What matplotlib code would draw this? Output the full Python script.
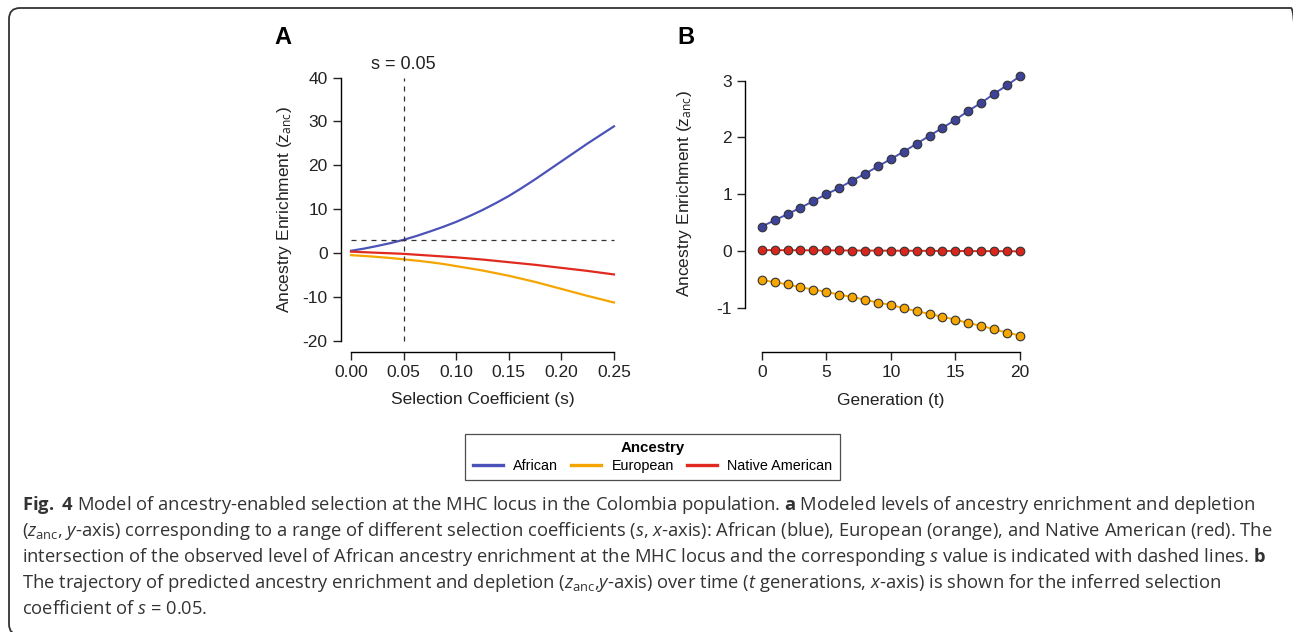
import matplotlib
matplotlib.use('Agg')
import matplotlib.pyplot as plt
from matplotlib.patches import FancyBboxPatch

plt.rcParams['font.family'] = ['Liberation Sans', 'DejaVu Sans']
plt.rcParams['axes.unicode_minus'] = False
plt.rcParams['mathtext.fontset'] = 'custom'
plt.rcParams['mathtext.rm'] = 'Open Sans'
plt.rcParams['mathtext.it'] = 'Open Sans:italic'
plt.rcParams['mathtext.bf'] = 'Open Sans:bold'

# panel A: enrichment vs selection coefficient
s_vals = [0.0, 0.0125, 0.025, 0.0375, 0.05, 0.0625, 0.075, 0.0875, 0.10, 0.1125, 0.125,
          0.1375, 0.15, 0.1625, 0.175, 0.1875, 0.20, 0.2125, 0.225, 0.2375, 0.25]
a_african = [0.5, 1.0, 1.6, 2.25, 3.0, 3.9, 4.9, 5.95, 7.1, 8.4, 9.8,
             11.35, 13.0, 14.85, 16.8, 18.85, 20.9, 22.95, 25.0, 26.95, 28.9]
a_european = [-0.5, -0.68, -0.9, -1.15, -1.45, -1.75, -2.1, -2.5, -3.0, -3.5, -4.0,
              -4.6, -5.2, -5.9, -6.6, -7.4, -8.2, -9.0, -9.8, -10.55, -11.3]
a_native = [0.3, 0.18, 0.05, -0.07, -0.2, -0.4, -0.6, -0.8, -1.0, -1.25, -1.5,
            -1.8, -2.1, -2.4, -2.7, -3.05, -3.4, -3.75, -4.1, -4.5, -4.9]
s_obs = 0.05
z_obs = 3.04

# panel B: trajectory over generations
gens = list(range(21))
b_african = [0.43, 0.54, 0.65, 0.76, 0.88, 1.00, 1.11, 1.24, 1.36, 1.49, 1.62,
             1.75, 1.89, 2.03, 2.17, 2.31, 2.47, 2.61, 2.77, 2.92, 3.08]
b_european = [-0.51, -0.55, -0.59, -0.64, -0.68, -0.72, -0.77, -0.81, -0.86, -0.91, -0.95,
              -1.01, -1.06, -1.11, -1.16, -1.21, -1.27, -1.32, -1.38, -1.44, -1.49]
b_native = [0.015, 0.014, 0.013, 0.012, 0.011, 0.010, 0.009, 0.008, 0.007, 0.006, 0.005,
            0.004, 0.003, 0.002, 0.001, 0.0, -0.002, -0.003, -0.004, -0.005, -0.007]

names = ['African', 'European', 'Native American']
line_cols = ['#4b53b8', '#f5a500', '#e12a1f']
dot_cols = ['#3c4399', '#f5a500', '#d8261c']

W, H = 1293, 632
fig = plt.figure(figsize=(W / 100, H / 100), dpi=100)


def px_axes(left, top, right, bottom):
    return fig.add_axes([left / W, 1 - bottom / H, (right - left) / W, (bottom - top) / H])


def r_style(ax, xb, yb, xout, yout):
    for sp in ['top', 'right']:
        ax.spines[sp].set_visible(False)
    ax.spines['left'].set_position(('outward', yout))
    ax.spines['bottom'].set_position(('outward', xout))
    ax.spines['left'].set_bounds(*yb)
    ax.spines['bottom'].set_bounds(*xb)
    for sp in ['left', 'bottom']:
        ax.spines[sp].set_linewidth(1.0)
    ax.tick_params(length=5.8, width=1.0, labelsize=12.5, pad=3.5, colors='#222222')
    ax.patch.set_alpha(0)


def place_labels(ax, xl, yl, xpos, ypos):
    ax.set_xlabel(xl, fontsize=12.5, color='#222222')
    ax.set_ylabel(ylab, fontsize=12.5, color='#222222')
    ax.xaxis.set_label_coords(*xpos)
    ax.yaxis.set_label_coords(*ypos)
    ax.xaxis.label.set_va('center')
    ax.yaxis.label.set_va('center')


ylab = r'Ancestry Enrichment (z$_{\mathrm{anc}}$)'

# ---- A
axA = px_axes(342.6, 68.9, 624.5, 347.2)
axA.set_xlim(-0.008, 0.26)
axA.set_ylim(-21.5, 42)
for ys, c in zip([a_african, a_european, a_native], line_cols):
    axA.plot(s_vals, ys, color=c, lw=1.6)
axA.plot([s_obs, s_obs], [-20, 40], color='#333333', lw=0.9, dashes=(4, 4))
axA.plot([0, 0.25], [z_obs, z_obs], color='#333333', lw=0.9, dashes=(4, 4))
axA.text(s_obs, 42.9, 's = 0.05', ha='center', va='center', fontsize=13, color='#222222')
axA.set_xticks([0, 0.05, 0.10, 0.15, 0.20, 0.25])
axA.set_xticklabels(['0.00', '0.05', '0.10', '0.15', '0.20', '0.25'])
axA.set_yticks([-20, -10, 0, 10, 20, 30, 40])
r_style(axA, (0, 0.25), (-20, 40), 3.2, 1.4)
place_labels(axA, 'Selection Coefficient (s)', ylab,
             ((482.5 - 342.6) / 281.9, (347.2 - 400) / 278.3),
             ((285 - 342.6) / 281.9, (347.2 - 210) / 278.3))
fig.text(274 / W, 1 - 38 / H, 'A', fontsize=17, fontweight='bold', va='center', ha='left')

# ---- B
axB = px_axes(751.4, 71.05, 1030.3, 346.3)
axB.set_xlim(-0.8, 20.8)
axB.set_ylim(-1.68, 3.17)
for ys, c, dc in zip([b_african, b_european, b_native], line_cols, dot_cols):
    axB.plot(gens, ys, color=c, lw=1.4, marker='o', ms=6.2,
             markerfacecolor=dc, markeredgecolor='#333333', markeredgewidth=0.8)
axB.set_xticks([0, 5, 10, 15, 20])
axB.set_yticks([-1, 0, 1, 2, 3])
r_style(axB, (0, 20), (-1, 3), 3.9, 4.6)
place_labels(axB, 'Generation (t)', ylab,
             ((891 - 751.4) / 278.9, (346.3 - 400) / 275.25),
             ((685 - 751.4) / 278.9, (346.3 - 194) / 275.25))
fig.text(677 / W, 1 - 38 / H, 'B', fontsize=17, fontweight='bold', va='center', ha='left')

# legend
handles = [plt.Line2D([], [], color=c, lw=2.4) for c in line_cols]
leg = fig.legend(handles, names, loc='center', ncol=3,
                 bbox_to_anchor=(652.5 / W, 1 - 457 / H), title='Ancestry',
                 fontsize=10.4, title_fontproperties={'weight': 'bold', 'size': 10.8},
                 frameon=True, fancybox=False, edgecolor='#222222',
                 handlelength=2.1, handletextpad=0.7, columnspacing=0.9,
                 borderpad=0.5, labelspacing=0.3, borderaxespad=0)
leg.get_frame().set_linewidth(0.9)

# caption
cap_lines = [
    r'$\mathbf{Fig.\ 4}$ Model of ancestry-enabled selection at the MHC locus in the Colombia population. $\mathbf{a}$ Modeled levels of ancestry enrichment and depletion',
    r'($z_{\mathrm{anc}}$, $y$-axis) corresponding to a range of different selection coefficients ($s$, $x$-axis): African (blue), European (orange), and Native American (red). The',
    r'intersection of the observed level of African ancestry enrichment at the MHC locus and the corresponding $s$ value is indicated with dashed lines. $\mathbf{b}$',
    r'The trajectory of predicted ancestry enrichment and depletion ($z_{\mathrm{anc}}$,$y$-axis) over time ($t$ generations, $x$-axis) is shown for the inferred selection',
    r'coefficient of $s$ = 0.05.',
]
for i, line in enumerate(cap_lines):
    fig.text(22 / W, 1 - (505 + 26 * i) / H, line, fontsize=13.2, family='Open Sans',
             color='#333333', va='center', ha='left')

# rounded frame around the figure
frame = FancyBboxPatch((9, -3), 1293, 627, boxstyle='round,pad=0,rounding_size=11',
                       transform=None, fill=False, edgecolor='#333333', lw=1.3)
fig.add_artist(frame)

fig.savefig('out.png', dpi=100)
